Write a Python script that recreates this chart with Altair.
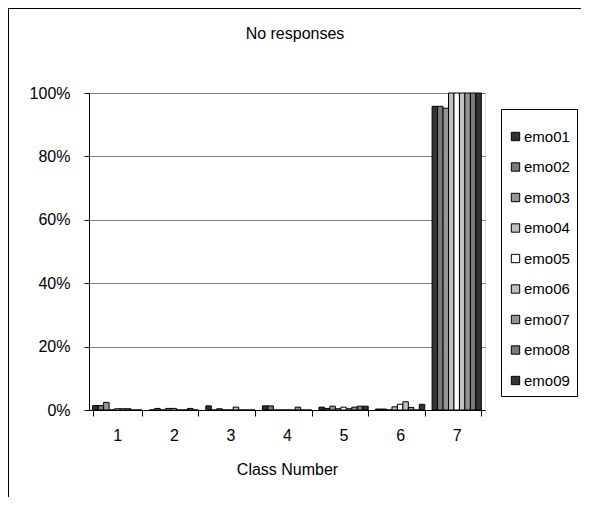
import altair as alt
import pandas as pd

classes = ["1", "2", "3", "4", "5", "6", "7"]
series = ["emo01", "emo02", "emo03", "emo04", "emo05", "emo06", "emo07", "emo08", "emo09"]
colors = ["#333333", "#7a7a7a", "#969696", "#c0c0c0", "#ffffff", "#c0c0c0", "#969696", "#7a7a7a", "#333333"]

emo01 = [1.4, 0.0, 1.3, 1.3, 0.9, 0.3, 95.8]
emo02 = [1.4, 0.5, 0.0, 1.3, 0.5, 0.3, 95.8]
emo03 = [2.4, 0.0, 0.4, 0.0, 1.2, 0.0, 95.2]
emo04 = [0.0, 0.5, 0.0, 0.0, 0.4, 1.0, 100.0]
emo05 = [0.4, 0.5, 0.0, 0.0, 0.9, 1.8, 100.0]
emo06 = [0.4, 0.0, 0.9, 0.0, 0.4, 2.6, 100.0]
emo07 = [0.4, 0.0, 0.0, 0.9, 0.9, 0.8, 100.0]
emo08 = [0.0, 0.5, 0.0, 0.0, 1.2, 0.0, 100.0]
emo09 = [0.0, 0.0, 0.0, 0.0, 1.2, 1.8, 100.0]

all_vals = [emo01, emo02, emo03, emo04, emo05, emo06, emo07, emo08, emo09]
rows = []
for s, vals in zip(series, all_vals):
    for c, v in zip(classes, vals):
        rows.append({"Class": c, "Series": s, "Value": v / 100.0})
df = pd.DataFrame(rows)

FONT = "Liberation Sans"
W, H = 396, 317

bars = alt.Chart(df).mark_bar(stroke="black", strokeWidth=1).encode(
    x=alt.X("Class:N", sort=classes,
            scale=alt.Scale(paddingInner=0.13, paddingOuter=0.065),
            axis=alt.Axis(title="Class Number", labelAngle=0, tickBand="extent",
                          tickSize=6, tickColor="black", domainColor="black",
                          labelFontSize=16, titleFontSize=16, labelFont=FONT, titleFont=FONT,
                          titleFontWeight="normal", labelPadding=11, titlePadding=18,
                          labelColor="black", titleColor="black")),
    xOffset=alt.XOffset("Series:N", sort=series, scale=alt.Scale(paddingInner=0, paddingOuter=0)),
    y=alt.Y("Value:Q", scale=alt.Scale(domain=[0, 1], nice=False),
            axis=alt.Axis(title=None, format="%", values=[0, 0.2, 0.4, 0.6, 0.8, 1.0],
                          grid=True, gridColor="#808080", tickSize=5, tickColor="black",
                          domainColor="black", labelFontSize=16, labelFont=FONT,
                          labelPadding=14, labelColor="black")),
    color=alt.Color("Series:N", sort=series,
                    scale=alt.Scale(domain=series, range=colors),
                    legend=alt.Legend(title=" ", titleFontSize=2, titlePadding=11,
                                      orient="none", legendX=412, legendY=16,
                                      symbolType="square", symbolSize=70,
                                      symbolStrokeColor="black", symbolStrokeWidth=1,
                                      labelFontSize=15, labelFont=FONT, labelColor="black",
                                      rowPadding=14.5, padding=7, strokeColor="black",
                                      fillColor="white", labelOffset=1)),
)

frame_left = alt.Chart(df).mark_rule(color="black", strokeWidth=1).encode(
    x=alt.value(-80.5), y=alt.value(-84.5), y2=alt.value(500))
frame_top = alt.Chart(df).mark_rule(color="black", strokeWidth=1).encode(
    x=alt.value(-80.5), x2=alt.value(500), y=alt.value(-84.5))

chart = alt.layer(frame_left, frame_top, bars).properties(
    width=W, height=H,
    title=alt.TitleParams(text="No responses", anchor="middle", fontSize=16, font=FONT,
                          fontWeight="normal", color="black", dx=8, dy=44, offset=10),
    autosize=alt.AutoSizeParams(type="none"),
    padding={"left": 81, "top": 85, "right": 96, "bottom": 87},
).configure_view(stroke="#808080", strokeWidth=1).configure(background="white")

chart.save("out.html", embed_options={"renderer": "svg", "actions": False})
